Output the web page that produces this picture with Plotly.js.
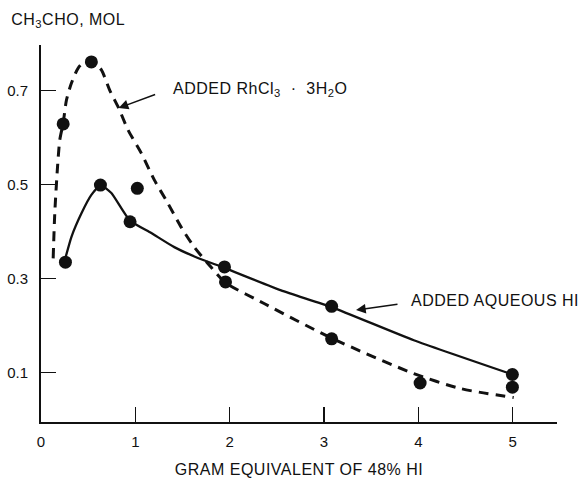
<!DOCTYPE html>
<html>
<head>
<meta charset="utf-8">
<script src="https://cdn.plot.ly/plotly-3.0.1.min.js"></script>
<style>
html,body{margin:0;padding:0;background:#fff;}
#chart{width:583px;height:479px;}
#chart .annotation-text, #chart .xtitle { letter-spacing: 0.5px; }
</style>
</head>
<body>
<div id="chart"></div>
<script>
// Measured points: added RhCl3·3H2O (dashed curve)
const rhX = [0.235, 0.534, 1.021, 1.956, 3.081, 4.019, 4.997];
const rhY = [0.629, 0.761, 0.492, 0.293, 0.172, 0.078, 0.069];
// Measured points: added aqueous HI (solid curve)
const hiX = [0.259, 0.630, 0.944, 1.945, 3.081, 4.997];
const hiY = [0.335, 0.499, 0.421, 0.325, 0.241, 0.096];
// Fitted curve: RhCl3 (dashed)
const rhCurveX = [0.129, 0.146, 0.175, 0.199, 0.235, 0.270, 0.323, 0.394, 0.471, 0.556, 0.640, 0.728, 0.823, 0.923, 1.063, 1.201, 1.346, 1.487, 1.625, 1.804, 1.952, 2.365, 3.085, 3.952, 4.450, 5.011];
const rhCurveY = [0.343, 0.439, 0.537, 0.595, 0.631, 0.680, 0.716, 0.748, 0.763, 0.761, 0.744, 0.701, 0.663, 0.616, 0.567, 0.510, 0.460, 0.409, 0.367, 0.324, 0.292, 0.247, 0.173, 0.098, 0.066, 0.047];
// Fitted curve: aqueous HI (solid)
const hiCurveX = [0.252, 0.323, 0.429, 0.534, 0.633, 0.746, 0.940, 1.169, 1.413, 1.663, 1.942, 2.545, 3.085, 3.952, 5.000];
const hiCurveY = [0.339, 0.389, 0.439, 0.478, 0.499, 0.482, 0.424, 0.397, 0.367, 0.344, 0.323, 0.275, 0.239, 0.169, 0.096];
// Ticks (last value of each is the unlabelled end tick of the axis)
const xTickVals = [0, 1, 2, 3, 4, 5, 5.465];
const xTickText = ['0', '1', '2', '3', '4', '5', ''];
const yTickVals = [0.1, 0.3, 0.5, 0.7, 0.795];
const yTickText = ['0.1', '0.3', '0.5', '0.7', ''];

const FONT = 'Liberation Sans, Arial, Helvetica, sans-serif';
const INK = '#111';

const traces = [
  {x: rhCurveX, y: rhCurveY, mode: 'lines', line: {color: INK, width: 3, dash: '10px,7px', shape: 'spline', smoothing: 0.7}, hoverinfo: 'skip'},
  {x: hiCurveX, y: hiCurveY, mode: 'lines', line: {color: INK, width: 2.3, shape: 'spline', smoothing: 0.5}, hoverinfo: 'skip'},
  {x: rhX, y: rhY, mode: 'markers', marker: {color: INK, size: 13}},
  {x: hiX, y: hiY, mode: 'markers', marker: {color: INK, size: 13}}
];

const layout = {
  width: 583, height: 479,
  margin: {l: 41, r: 26, t: 45, b: 57},
  paper_bgcolor: '#fff', plot_bgcolor: '#fff',
  showlegend: false,
  font: {family: FONT, color: INK, size: 16},
  xaxis: {
    range: [0, 5.47], showgrid: false, zeroline: false,
    showline: true, linecolor: INK, linewidth: 2,
    ticks: 'inside', ticklen: 15, tickwidth: 1.5, tickcolor: INK,
    tickmode: 'array', tickvals: xTickVals, ticktext: xTickText,
    tickfont: {family: FONT, size: 15, color: INK},
    ticklabelstandoff: 5,
    title: {text: 'GRAM EQUIVALENT OF 48% HI', font: {family: FONT, size: 16, color: INK}, standoff: 15}
  },
  yaxis: {
    range: [-0.005, 0.797], showgrid: false, zeroline: false,
    showline: true, linecolor: INK, linewidth: 2,
    ticks: 'inside', ticklen: 15, tickwidth: 1.5, tickcolor: INK,
    tickmode: 'array', tickvals: yTickVals, ticktext: yTickText,
    tickfont: {family: FONT, size: 15, color: INK},
    ticklabelstandoff: 8
  },
  annotations: [
    {xref: 'paper', yref: 'paper', x: -0.056, y: 1.064, xanchor: 'left', yanchor: 'middle', showarrow: false,
     text: 'CH<sub>3</sub>CHO, MOL', font: {family: FONT, size: 16, color: INK}},
    {x: 2.328, y: 0.703, xanchor: 'center', yanchor: 'middle', showarrow: false,
     text: 'ADDED RhCl<sub>3</sub>\u00a0\u00a0·\u00a0\u00a03H<sub>2</sub>O', font: {family: FONT, size: 16, color: INK}},
    {x: 0.823, y: 0.663, ax: 38, ay: -14, text: '', showarrow: true, arrowhead: 2, arrowsize: 1.3, arrowwidth: 1.5, arrowcolor: INK},
    {x: 3.942, y: 0.254, xanchor: 'left', yanchor: 'middle', showarrow: false,
     text: 'ADDED AQUEOUS HI', font: {family: FONT, size: 16, color: INK}},
    {x: 3.339, y: 0.233, ax: 43, ay: -6, text: '', showarrow: true, arrowhead: 2, arrowsize: 1.3, arrowwidth: 1.5, arrowcolor: INK}
  ]
};

Plotly.newPlot('chart', traces, layout, {displayModeBar: false, staticPlot: true});
</script>
</body>
</html>
